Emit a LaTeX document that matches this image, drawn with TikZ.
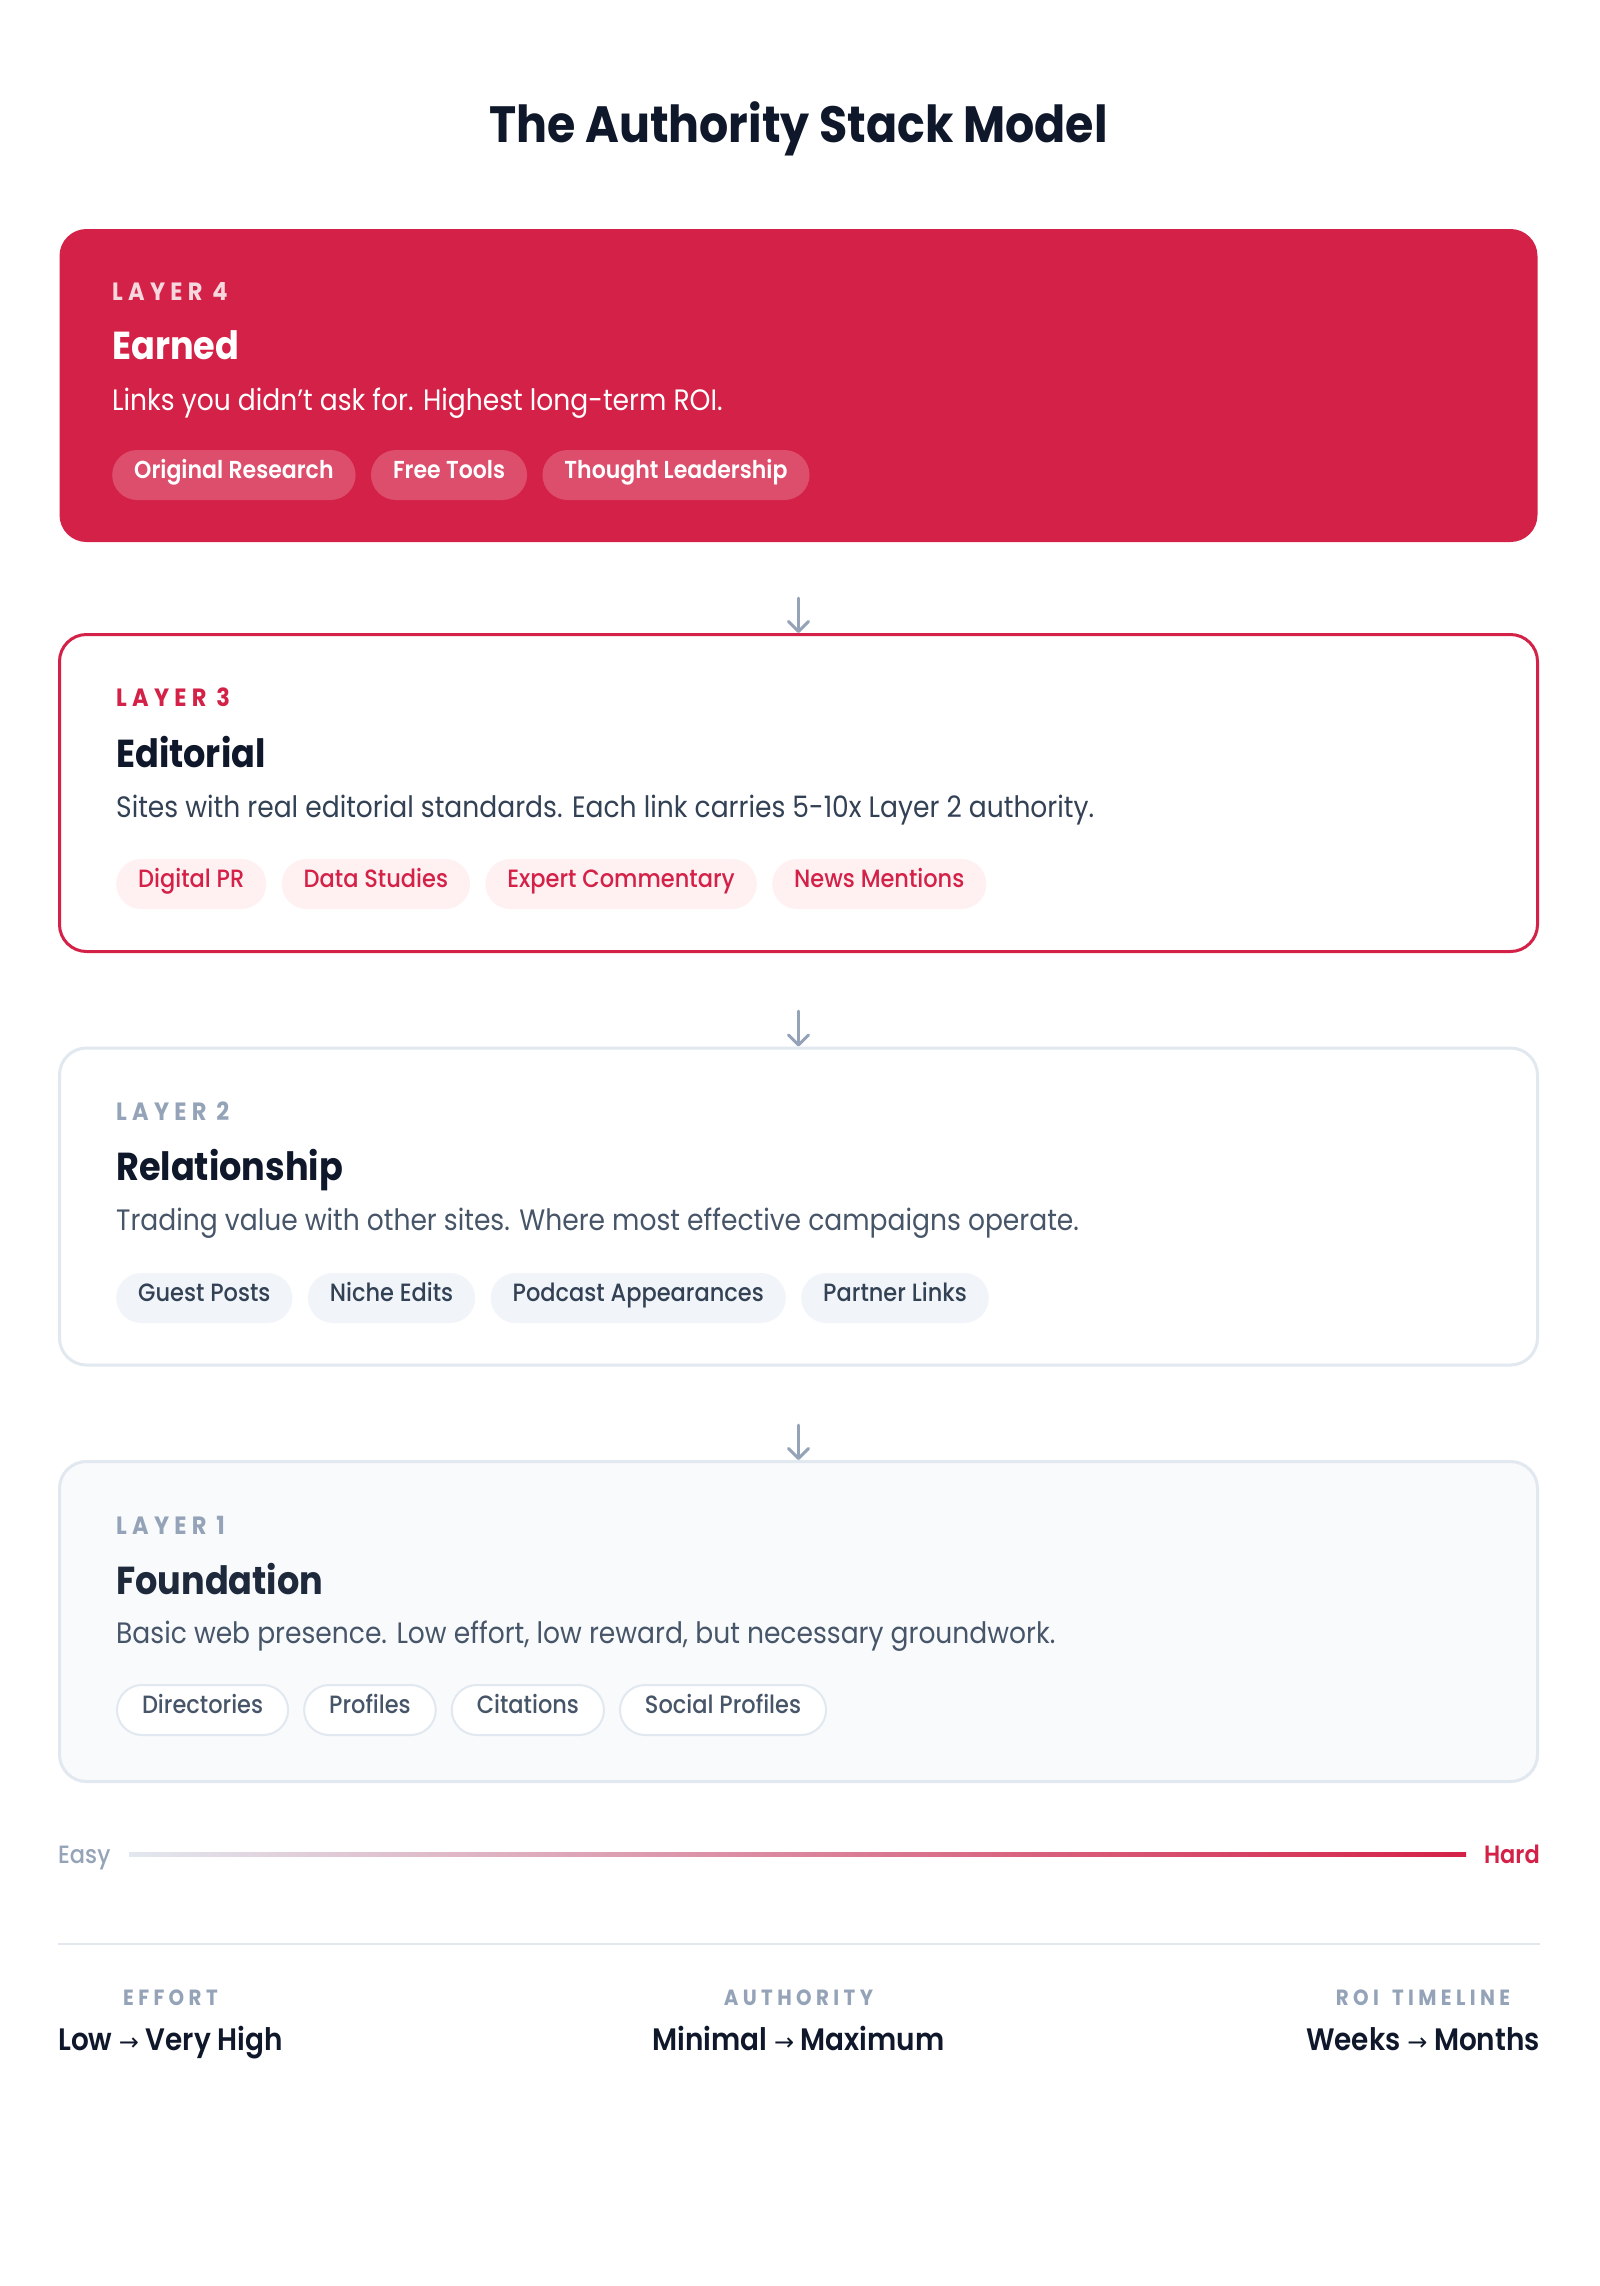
\documentclass[tikz,border=0pt]{standalone}
\usepackage{fontspec}
\setmainfont{Poppins}[FakeStretch=0.9]
\IfFontExistsTF{Poppins SemiBold}
  {\newfontfamily\semifont{Poppins SemiBold}[FakeStretch=0.9]}
  {\newfontfamily\semifont{Poppins}[FakeStretch=0.9,FakeBold=1.2]}
\IfFontExistsTF{Poppins Medium}
  {\newfontfamily\mediumfont{Poppins Medium}[FakeStretch=0.9]}
  {\newfontfamily\mediumfont{Poppins}[FakeStretch=0.9,FakeBold=0.6]}
\newfontfamily\symfont{DejaVu Sans}
\usetikzlibrary{positioning,arrows.meta}

\definecolor{brandred}{HTML}{D42147}
\definecolor{tagred}{HTML}{DD4D6C}
\definecolor{rose50}{HTML}{FFF0F2}
\definecolor{ink}{HTML}{0F172A}
\definecolor{slate800}{HTML}{1E293B}
\definecolor{slate700}{HTML}{334155}
\definecolor{slate600}{HTML}{475569}
\definecolor{slate400}{HTML}{94A3B8}
\definecolor{slate200}{HTML}{E2E8F0}
\definecolor{slate100}{HTML}{F1F5F9}
\definecolor{slate50}{HTML}{F8FAFC}

\newcommand{\rangeto}{{\symfont\fontsize{24}{24}\selectfont →}}

\tikzset{
  card/.style     = {shape=rectangle, rounded corners=27pt, line width=3pt,
                     minimum width=1478pt, minimum height=317pt, inner sep=0pt},
  kicker/.style   = {anchor=base west, inner sep=0pt,
                     font=\fontsize{25}{25}\selectfont\bfseries\addfontfeature{LetterSpace=21}},
  heading/.style  = {anchor=base west, inner sep=0pt, text=ink,
                     font=\fontsize{39}{39}\selectfont\bfseries},
  blurb/.style    = {anchor=base west, inner sep=0pt,
                     font=\fontsize{29.5}{29.5}\selectfont},
  pill/.style     = {shape=rectangle, rounded corners=25pt, minimum height=50pt,
                     inner xsep=22pt, inner ysep=0pt, text height=0.75em, text depth=0.1em,
                     font=\fontsize{25}{25}\selectfont\mediumfont},
  hotpill/.style  = {pill, fill=tagred, text=white, font=\fontsize{24.5}{24.5}\selectfont\semifont},
  redpill/.style  = {pill, fill=rose50, text=brandred},
  greypill/.style = {pill, fill=slate100, text=slate700},
  basepill/.style = {pill, fill=white, draw=slate200, line width=2pt, text=slate600,
                     inner xsep=25pt},
  flowarrow/.style= {draw=slate400, line width=3pt, line cap=round,
                     -{Straight Barb[length=10pt,width=20pt,line cap=round,line join=round]}},
  colhead/.style  = {anchor=base, inner sep=0pt, text=slate400,
                     font=\fontsize{22}{22}\selectfont\bfseries\addfontfeature{LetterSpace=20}},
  colvalue/.style = {inner sep=0pt, text=ink, font=\fontsize{31}{31}\selectfont\semifont}
}

\begin{document}
\begin{tikzpicture}[x=1pt,y=-1pt]
  \useasboundingbox[fill=white] (0,0) rectangle (1600,2286);

  \node [anchor=base, text=ink, font=\fontsize{51}{51}\selectfont\bfseries]
    (title) at (798.5,142) {The Authority Stack Model};

  % layer 4
  \node [card, fill=brandred, minimum height=313pt] (l4) at (798.5,385.5) {};
  \node [kicker, text=white!82!brandred] (l4k) at (112,300) {LAYER 4};
  \node [heading, text=white] (l4h) at (112,359) {Earned};
  \node [blurb, text=white] (l4b) at (112,410) {Links you didn't ask for. Highest long-term ROI.};
  \node [hotpill, anchor=west] (l4t1) at (112,475) {Original Research};
  \node [hotpill, right=15pt of l4t1] (l4t2) {Free Tools};
  \node [hotpill, right=15pt of l4t2] (l4t3) {Thought Leadership};

  % layer 3
  \node [card, draw=brandred, fill=white] (l3) at (798.5,793) {};
  \node [kicker, text=brandred] (l3k) at (116,706) {LAYER 3};
  \node [heading] (l3h) at (116,767) {Editorial};
  \node [blurb, text=slate700] (l3b) at (116,817) {Sites with real editorial standards. Each link carries 5-10x Layer 2 authority.};
  \node [redpill, anchor=west] (l3t1) at (116,884) {Digital PR};
  \node [redpill, right=15pt of l3t1] (l3t2) {Data Studies};
  \node [redpill, right=15pt of l3t2] (l3t3) {Expert Commentary};
  \node [redpill, right=15pt of l3t3] (l3t4) {News Mentions};

  % layer 2
  \node [card, draw=slate200, fill=white] (l2) at (798.5,1206.5) {};
  \node [kicker, text=slate400] (l2k) at (116,1120) {LAYER 2};
  \node [heading] (l2h) at (116,1180) {Relationship};
  \node [blurb, text=slate600] (l2b) at (116,1230) {Trading value with other sites. Where most effective campaigns operate.};
  \node [greypill, anchor=west] (l2t1) at (116,1298) {Guest Posts};
  \node [greypill, right=15pt of l2t1] (l2t2) {Niche Edits};
  \node [greypill, right=15pt of l2t2] (l2t3) {Podcast Appearances};
  \node [greypill, right=15pt of l2t3] (l2t4) {Partner Links};

  % layer 1
  \node [card, draw=slate200, fill=slate50, minimum height=320pt] (l1) at (798.5,1621.5) {};
  \node [kicker, text=slate400] (l1k) at (116,1534) {LAYER 1};
  \node [heading, text=slate800] (l1h) at (116,1594) {Foundation};
  \node [blurb, text=slate600] (l1b) at (116,1643) {Basic web presence. Low effort, low reward, but necessary groundwork.};
  \node [basepill, anchor=west] (l1t1) at (116,1710) {Directories};
  \node [basepill, right=14pt of l1t1] (l1t2) {Profiles};
  \node [basepill, right=14pt of l1t2] (l1t3) {Citations};
  \node [basepill, right=14pt of l1t3] (l1t4) {Social Profiles};

  % arrows between layers
  \coordinate (a43) at (798.5,598);
  \coordinate (a32) at (798.5,1011);
  \coordinate (a21) at (798.5,1425);
  \draw [flowarrow] (a43) -- (l3.north);
  \draw [flowarrow] (a32) -- (l2.north);
  \draw [flowarrow] (a21) -- (l1.north);

  % difficulty scale
  \node [anchor=base west, inner sep=0pt, text=slate400, font=\fontsize{25}{25}\selectfont\mediumfont]
    (easy) at (58,1863) {Easy};
  \node [anchor=base east, inner sep=0pt, text=brandred, font=\fontsize{25}{25}\selectfont\semifont]
    (hard) at (1540,1863) {Hard};
  \shade [left color=slate200, right color=brandred] (129,1852.5) rectangle (1466,1856);

  \draw [slate200, line width=2pt] (58,1944) -- (1540,1944);

  % summary row
  \coordinate (headrow) at (0,2005);
  \node [colvalue, anchor=base west] (effort) at (58,2050) {Low \rangeto{} Very High};
  \node [colvalue, anchor=base] (authority) at (798.5,2050) {Minimal \rangeto{} Maximum};
  \node [colvalue, anchor=base east] (roi) at (1540,2050) {Weeks \rangeto{} Months};
  \node [colhead] (efforthead) at (effort.center |- headrow) {EFFORT};
  \node [colhead] (authorityhead) at (authority.center |- headrow) {AUTHORITY};
  \node [colhead] (roihead) at (roi.center |- headrow) {ROI\hspace{0.6em}TIMELINE};
\end{tikzpicture}
\end{document}
